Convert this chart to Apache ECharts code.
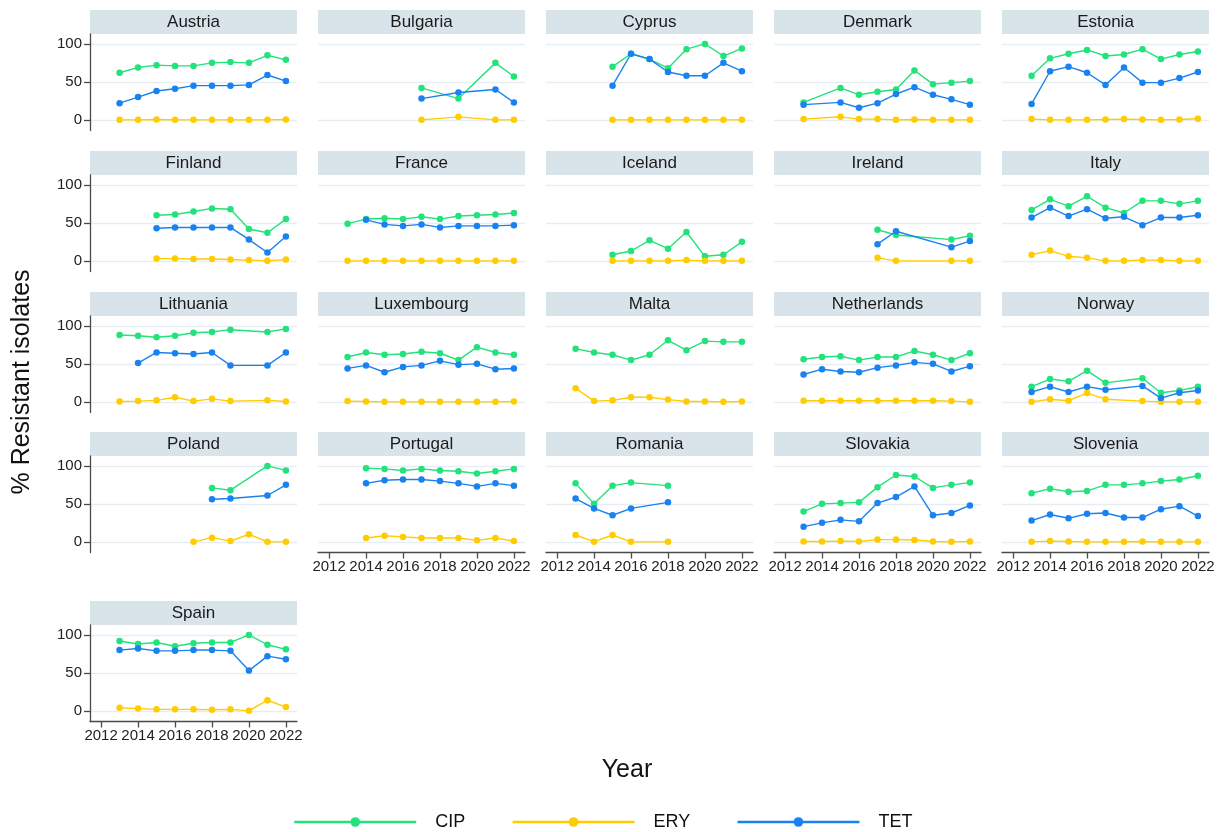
<!DOCTYPE html>
<html>
<head>
<meta charset="utf-8">
<script src="https://cdn.jsdelivr.net/npm/echarts@6/dist/echarts.min.js"></script>
<style>
  html, body { margin: 0; padding: 0; background: #ffffff; }
  #chart { width: 1220px; height: 832px; }
</style>
</head>
<body>
<div id="chart"></div>
<script>
// Resistance (%) by country, 2013–2022; null = no data reported that year
const COUNTRIES = ['Austria', 'Bulgaria', 'Cyprus', 'Denmark', 'Estonia',
  'Finland', 'France', 'Iceland', 'Ireland', 'Italy',
  'Lithuania', 'Luxembourg', 'Malta', 'Netherlands', 'Norway',
  'Poland', 'Portugal', 'Romania', 'Slovakia', 'Slovenia', 'Spain'];
const YEARS = [2013, 2014, 2015, 2016, 2017, 2018, 2019, 2020, 2021, 2022];
const X_TICKS = [2012, 2014, 2016, 2018, 2020, 2022];
const Y_TICKS = [0, 50, 100];
const n = null;

const CIP = [
  [62, 69, 72, 71, 71, 75, 76, 75, 85, 79],      // Austria
  [n, n, n, n, 42, n, 28, n, 75, 57],            // Bulgaria
  [n, n, 70, 87, 80, 68, 93, 100, 84, 94],       // Cyprus
  [23, n, 42, 33, 37, 40, 65, 47, 49, 51],       // Denmark
  [58, 81, 87, 92, 84, 86, 93, 80, 86, 90],      // Estonia
  [n, n, 60, 61, 65, 69, 68, 42, 37, 55],        // Finland
  [49, 55, 56, 55, 58, 55, 59, 60, 61, 63],      // France
  [n, n, 8, 13, 27, 16, 38, 6, 8, 25],           // Iceland
  [n, n, n, n, 41, 34, n, n, 28, 33],            // Ireland
  [67, 81, 72, 85, 70, 63, 79, 79, 75, 79],      // Italy
  [88, 87, 85, 87, 91, 92, 95, n, 92, 96],       // Lithuania
  [59, 65, 62, 63, 66, 64, 55, 72, 65, 62],      // Luxembourg
  [70, 65, 62, 55, 62, 81, 68, 80, 79, 79],      // Malta
  [56, 59, 60, 55, 59, 59, 67, 62, 55, 64],      // Netherlands
  [20, 30, 27, 41, 25, n, 31, 12, 15, 20],       // Norway
  [n, n, n, n, n, 71, 68, n, 100, 94],           // Poland
  [n, 97, 96, 94, 96, 94, 93, 90, 93, 96],       // Portugal
  [77, 50, 74, 78, n, 74, n, n, n, n],           // Romania
  [40, 50, 51, 52, 72, 88, 86, 71, 75, 78],      // Slovakia
  [64, 70, 66, 67, 75, 75, 77, 80, 82, 87],      // Slovenia
  [92, 88, 90, 85, 89, 90, 90, 100, 87, 81]      // Spain
];

const ERY = [
  [0, 0, 0.5, 0, 0, 0, 0, 0, 0, 0.5],
  [n, n, n, n, 0, n, 4, n, 0, 0],
  [n, n, 0, 0, 0, 0, 0, 0, 0, 0],
  [1, n, 4, 1, 1, 0, 0.5, 0, 0, 0],
  [1, 0, 0, 0, 0.5, 1, 0.5, 0, 0.5, 1.5],
  [n, n, 3, 3, 2.5, 2.5, 1.7, 1, 0, 1.7],
  [0, 0, 0, 0, 0, 0, 0, 0, 0, 0],
  [n, n, 0, 0, 0, 0, 1, 0, 0, 0],
  [n, n, n, n, 4, 0, n, n, 0, 0],
  [8, 13.5, 6, 4, 0, 0, 1, 1, 0, 0],
  [0.5, 1, 2, 6, 1, 4, 1, n, 2, 0.5],
  [1, 0.5, 0, 0, 0, 0, 0, 0, 0, 0.5],
  [18, 1, 2, 6, 6, 3, 0.5, 0.5, 0, 0.5],
  [1.5, 1.5, 1.5, 1.5, 1.5, 1.5, 1.5, 1.5, 1, 0],
  [0, 3.5, 1.5, 11.5, 3.5, n, 1, 0, 0, 0],
  [n, n, n, n, 0, 5.5, 1, 10, 0, 0],
  [n, 5, 8, 6.5, 5, 5, 5, 2, 5, 1],
  [9, 0, 9, 0, n, 0, n, n, n, n],
  [0.5, 0.5, 1, 0.5, 3, 3, 2.5, 0.5, 0, 0.5],
  [0, 1, 0.5, 0, 0, 0, 0.5, 0, 0, 0],
  [4, 3, 2, 2, 2, 1.5, 2, 0, 14, 5]
];

const TET = [
  [22, 30, 38, 41, 45, 45, 45, 46, 59, 51],
  [n, n, n, n, 28, n, 36, n, 40, 23],
  [n, n, 45, 87, 80, 63, 58, 58, 75, 64],
  [20, n, 23, 16, 22, 34, 43, 33, 27, 20],
  [21, 64, 70, 62, 46, 69, 49, 49, 55, 63],
  [n, n, 43, 44, 44, 44, 44, 28, 11, 32],
  [n, 54, 48, 46, 48, 44, 46, 46, 46, 47],
  [n, n, n, n, n, n, n, n, n, n],
  [n, n, n, n, 22, 39, n, n, 18, 26],
  [57, 70, 59, 68, 56, 58, 47, 57, 57, 60],
  [n, 51, 65, 64, 63, 65, 48, n, 48, 65],
  [44, 48, 39, 46, 48, 54, 49, 50, 43, 44],
  [n, n, n, n, n, n, n, n, n, n],
  [36, 43, 40, 39, 45, 48, 52, 50, 40, 47],
  [13, 20, 13, 20, 16, n, 21, 5, 12, 15],
  [n, n, n, n, n, 56, 57, n, 61, 75],
  [n, 77, 81, 82, 82, 80, 77, 73, 77, 74],
  [57, 44, 35, 44, n, 52, n, n, n, n],
  [20, 25, 29, 27, 51, 59, 73, 35, 38, 48],
  [28, 36, 31, 37, 38, 32, 32, 43, 47, 34],
  [80, 82, 79, 79, 80, 80, 79, 53, 72, 68]
];

// Panel layout (pixels)
const COL_LEFT = [90, 318, 546, 774, 1002];
const ROW_TOP = [34, 175, 316, 456, 625];
const PANEL_W = 207;
const PANEL_H = 96.5;
const STRIP_H = 24;
const FONT = "'Liberation Sans', Arial, Helvetica, sans-serif";

const DRUGS = [
  { name: 'CIP', values: CIP, color: '#22e27c' },
  { name: 'ERY', values: ERY, color: '#ffcc00' },
  { name: 'TET', values: TET, color: '#1a82f0' }
];

const grids = [], xAxes = [], yAxes = [], series = [], graphics = [];

COUNTRIES.forEach(function (country, i) {
  const row = Math.floor(i / 5), col = i % 5;
  const left = COL_LEFT[col], top = ROW_TOP[row];
  const isBottom = i >= COUNTRIES.length - 5;
  const isLeft = col === 0;

  grids.push({ left: left, top: top, width: PANEL_W, height: PANEL_H, containLabel: false });

  xAxes.push({
    type: 'value', gridIndex: i, min: 2011.4, max: 2022.6,
    axisLine: { show: isBottom, onZero: false, lineStyle: { color: '#4a4a4a', width: 1.3 } },
    axisTick: { show: isBottom, length: 6, customValues: X_TICKS, lineStyle: { color: '#4a4a4a', width: 1.3 } },
    axisLabel: { show: isBottom, customValues: X_TICKS, fontSize: 15, color: '#222', margin: 7, fontFamily: FONT,
      formatter: function (v) { return String(v); } },
    splitLine: { show: false }
  });

  yAxes.push({
    type: 'value', gridIndex: i, min: -14, max: 113,
    axisLine: { show: isLeft, onZero: false, lineStyle: { color: '#4a4a4a', width: 1.3 } },
    axisTick: { show: isLeft, length: 6, customValues: Y_TICKS, lineStyle: { color: '#4a4a4a', width: 1.3 } },
    axisLabel: { show: isLeft, customValues: Y_TICKS, fontSize: 15, color: '#222', margin: 8, fontFamily: FONT },
    splitLine: { show: true, lineStyle: { color: '#e6eef3', width: 1.3 } }
  });

  DRUGS.forEach(function (d) {
    const pts = [];
    YEARS.forEach(function (y, k) {
      const v = d.values[i][k];
      if (v !== null) pts.push([y, v]);
    });
    if (!pts.length) return;
    series.push({
      name: d.name, type: 'line', xAxisIndex: i, yAxisIndex: i,
      data: pts, symbol: 'circle', symbolSize: 6.5, showSymbol: true,
      color: d.color, lineStyle: { width: 1.4, color: d.color },
      itemStyle: { color: d.color }, animation: false, silent: true
    });
  });

  // facet strip with the country name
  graphics.push({
    type: 'rect', left: left, top: top - STRIP_H,
    shape: { width: PANEL_W, height: STRIP_H },
    style: { fill: '#d9e4ea' }, silent: true
  });
  graphics.push({
    type: 'text', x: left + PANEL_W / 2, y: top - STRIP_H / 2,
    style: { text: country, fontSize: 17, fontFamily: FONT, fill: '#1a1a1a',
      textAlign: 'center', textVerticalAlign: 'middle' }, silent: true
  });
});

// axis titles
graphics.push({
  type: 'text', x: 22, y: 382, rotation: Math.PI / 2,
  style: { text: '% Resistant isolates', fontSize: 25, fontFamily: FONT, fill: '#111',
    textAlign: 'center', textVerticalAlign: 'middle' }
});
graphics.push({
  type: 'text', x: 627, y: 770,
  style: { text: 'Year', fontSize: 25, fontFamily: FONT, fill: '#111',
    textAlign: 'center', textVerticalAlign: 'middle' }
});

const chart = echarts.init(document.getElementById('chart'), null, { renderer: 'canvas' });
chart.setOption({
  backgroundColor: '#ffffff',
  animation: false,
  textStyle: { fontFamily: FONT },
  grid: grids,
  xAxis: xAxes,
  yAxis: yAxes,
  series: series,
  graphic: graphics,
  legend: {
    data: ['CIP', 'ERY', 'TET'],
    left: 293, top: 813, padding: 0,
    itemWidth: 122, itemHeight: 12, itemGap: 46,
    lineStyle: { width: 2.5 },
    textStyle: { fontSize: 18, color: '#111', fontFamily: FONT, padding: [0, 0, 0, 14] }
  }
});
</script>
</body>
</html>
